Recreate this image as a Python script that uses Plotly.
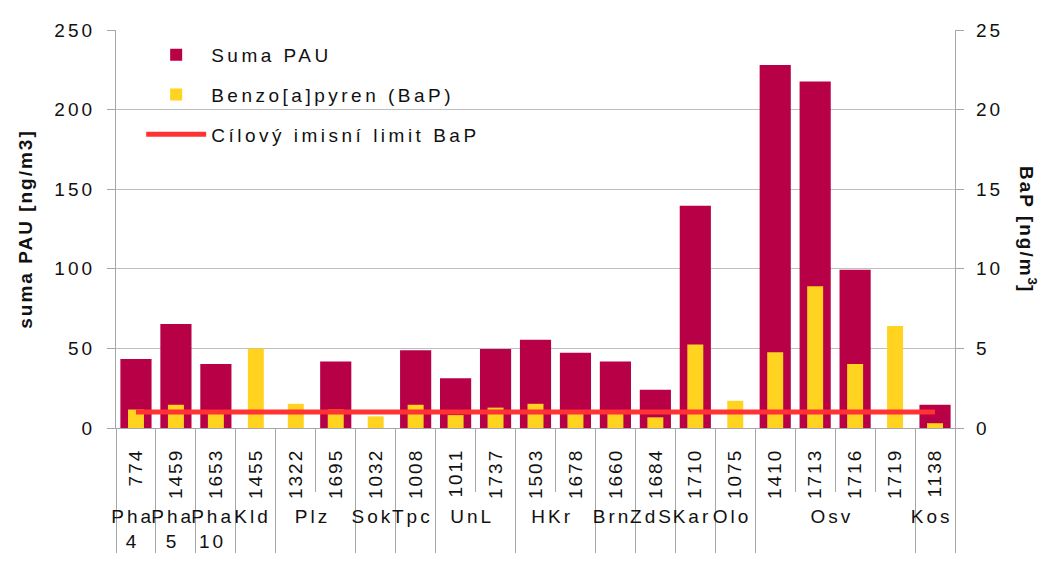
import plotly.graph_objects as go

groups = ["Pha<br>4", "Pha<br>5", "Pha<br>10", "Kld", "Plz", "Plz", "Sok", "Tpc",
          "UnL", "UnL", "HKr", "HKr", "Brn", "ZdS", "Kar", "Olo",
          "Osv", "Osv", "Osv", "Osv", "Kos"]
stations = ["774", "1459", "1653", "1455", "1322", "1695", "1032", "1008",
            "1011", "1737", "1503", "1678", "1660", "1684", "1710", "1075",
            "1410", "1713", "1716", "1719", "1138"]
suma_pau = [43.3, 65.4, 40.2, None, None, 41.7, None, 48.8,
            31.3, 49.6, 55.5, 47.2, 41.7, 24.0, 139.6, None,
            228.0, 217.7, 99.4, None, 14.6]
bap = [1.16, 1.46, 1.0, 5.0, 1.52, 1.16, 0.73, 1.46,
       0.81, 1.28, 1.52, 1.0, 1.0, 0.67, 5.24, 1.71,
       4.76, 8.9, 4.02, 6.4, 0.30]
bap_limit = [1] * len(stations)
pau_ticks = [0, 50, 100, 150, 200, 250]
bap_ticks = [0, 5, 10, 15, 20, 25]

FONT = "Arial, Liberation Sans, sans-serif"
AXIS = "#A6A6A6"
GRID = "#BFBFBF"
TXT = "#111111"


def sp(text, px):
    """Wrap each line of a label in a letter-spaced span."""
    return "<br>".join(f"<span style='letter-spacing:{px}px'>{p}</span>"
                       for p in str(text).split("<br>"))


x = [[sp(g, 3) for g in groups], [sp(s, 2) for s in stations]]

fig = go.Figure()
fig.add_trace(go.Bar(x=x, y=suma_pau, name=sp("Suma PAU", 3.5), marker_color="#B80047",
                     marker_line_width=0, width=0.78, legendgroup="a", yaxis="y"))
fig.add_trace(go.Bar(x=x, y=bap, name=sp("Benzo[a]pyren (BaP)", 3.5), marker_color="#FFD320",
                     marker_line_width=0, width=0.4, legendgroup="b", yaxis="y2"))
fig.add_trace(go.Scatter(x=x, y=bap_limit, name=sp("Cílový imisní limit BaP", 3.5), mode="lines",
                         line=dict(color="#FF3333", width=5), legendgroup="c", yaxis="y2"))

fig.update_layout(
    width=1038, height=555, autosize=False,
    margin=dict(l=108, r=91, t=13, b=132),
    paper_bgcolor="white", plot_bgcolor="white",
    font=dict(family=FONT, size=19, color=TXT),
    barmode="overlay",
    showlegend=True,
    legend=dict(x=0.03, y=0.985, xanchor="left", yanchor="top",
                bgcolor="rgba(0,0,0,0)", font=dict(size=19, color=TXT),
                tracegroupgap=12, itemwidth=60),
    xaxis=dict(type="multicategory", tickangle=-90, ticks="outside", ticklen=63,
               ticklabelstandoff=12,
               tickson="boundaries", tickcolor=AXIS, tickwidth=1.3, showline=True, linecolor=AXIS,
               linewidth=1.3, showdividers=True, dividercolor=AXIS, dividerwidth=1.3,
               tickfont=dict(size=19), showgrid=False),
    yaxis=dict(range=[0, 250], tickvals=pau_ticks, ticktext=[sp(v, 3) for v in pau_ticks],
               showgrid=True, gridcolor=GRID, gridwidth=1.3,
               showline=True, linecolor=AXIS, linewidth=1.3, ticks="outside", ticklen=8,
               tickcolor=AXIS, tickwidth=1.3, zeroline=False, tickfont=dict(size=19),
               ticklabelstandoff=8,
               title=dict(text="<b>" + sp("suma PAU [ng/m3]", 2) + "</b>",
                          font=dict(size=19), standoff=16)),
    yaxis2=dict(range=[0, 25], tickvals=bap_ticks, ticktext=[sp(v, 3) for v in bap_ticks],
                overlaying="y", side="right", showgrid=False,
                showline=True, linecolor=AXIS, linewidth=1.3, ticks="outside", ticklen=8,
                tickcolor=AXIS, tickwidth=1.3, zeroline=False, tickfont=dict(size=19),
                ticklabelstandoff=8),
    annotations=[dict(text="<b>" + sp("BaP [ng/m", 2) + "<sup>3</sup>]</b>",
                      xref="paper", yref="paper", x=1.087, y=0.5,
                      xanchor="center", yanchor="middle", textangle=90, showarrow=False,
                      font=dict(size=19, color=TXT))],
)

fig.write_html("out.html")
